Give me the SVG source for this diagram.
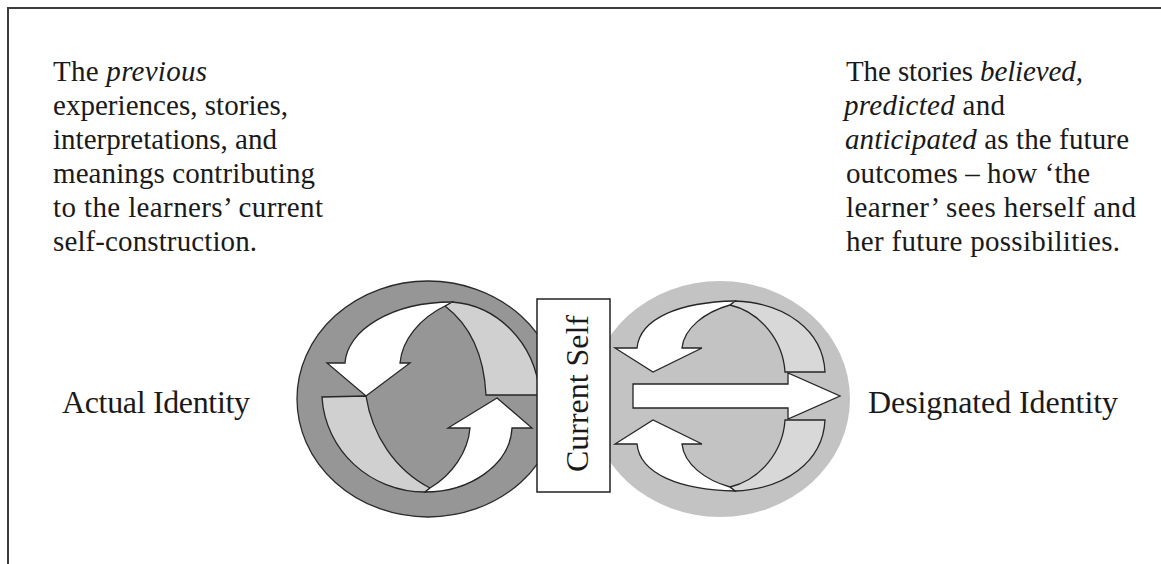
<svg xmlns="http://www.w3.org/2000/svg" width="1161" height="564" viewBox="0 0 1161 564">
  <style>
    text { font-family: "Liberation Serif", "Times New Roman", serif; fill: #1a1a1a; }
    .body { font-size: 29px; }
    .label { font-size: 32px; }
    .it { font-style: italic; }
    .edge { stroke: #262626; stroke-width: 1.3; stroke-linejoin: miter; }
    .face { fill: #ffffff; }
    .back-dark { fill: #d0d0d0; }
    .back-light { fill: #d8d8d8; }
  </style>

  <rect width="1161" height="564" fill="#ffffff"/>

  <!-- page frame -->
  <g id="frame">
    <path d="M8,564 V8 H1161" fill="none" stroke="#3c3c3c" stroke-width="2"/>
  </g>

  <!-- description of the past -->
  <g id="past-text" class="body">
    <text x="53" y="81" textLength="154">The <tspan class="it">previous</tspan></text>
    <text x="53" y="115" textLength="235">experiences, stories,</text>
    <text x="53" y="149" textLength="224">interpretations, and</text>
    <text x="53" y="183" textLength="262">meanings contributing</text>
    <text x="53" y="217" textLength="270">to the learners’ current</text>
    <text x="53" y="251" textLength="204">self-construction.</text>
  </g>

  <!-- description of the future -->
  <g id="future-text" class="body">
    <text x="846" y="81" textLength="237">The stories <tspan class="it">believed,</tspan></text>
    <text x="844" y="115" textLength="161"><tspan class="it">predicted</tspan> and</text>
    <text x="845" y="149" textLength="284"><tspan class="it">anticipated</tspan> as the future</text>
    <text x="846" y="183" textLength="244">outcomes – how ‘the</text>
    <text x="846" y="217" textLength="290">learner’ sees herself and</text>
    <text x="846" y="251" textLength="274">her future possibilities.</text>
  </g>

  <!-- actual identity: dark disc with a two-arrow cycle -->
  <g id="actual-identity">
    <ellipse cx="428" cy="399" rx="131" ry="118" fill="#969696" stroke="#2a2a2a" stroke-width="1.3"/>
    <path class="edge back-dark" d="M452,302 C495,305 535,340 540,395 L486,395 C484,355 470,325 445,306 Z"/>
    <path class="edge back-dark" d="M322,397 C325,450 370,492 425,492 L430,488 C395,470 372,435 366,396 Z"/>
    <path class="edge face" d="M345,363 C347,330 392,302 452,302 L445,306 C420,318 402,340 400,363 L410,363 L366,396 L327,363 Z"/>
    <path class="edge face" d="M512,428 C510,465 470,492 425,492 L430,488 C452,475 468,452 470,428 L448,428 L497,398 L532,428 Z"/>
    <text class="label" x="62" y="413" textLength="188">Actual Identity</text>
  </g>

  <!-- designated identity: light disc, cycle opened by a forward arrow -->
  <g id="designated-identity">
    <ellipse cx="720" cy="399" rx="130" ry="118" fill="#c3c3c3"/>
    <path class="edge back-light" d="M735,301 C785,303 823,330 825,372 L785,372 C783,340 760,312 730,305 Z"/>
    <path class="edge back-light" d="M735,491 C785,489 823,462 825,420 L785,420 C783,452 760,480 730,487 Z"/>
    <path class="edge face" d="M637,348 C640,318 680,302 735,301 L730,305 C705,312 684,328 682,348 L702,348 L653,372 L615,348 Z"/>
    <path class="edge face" d="M637,444 C640,474 680,490 735,491 L730,487 C705,480 684,464 682,444 L702,444 L653,420 L615,444 Z"/>
    <path class="edge face" d="M633,384 L788,384 L788,373 L840,396 L788,419 L788,408 L633,408 Z"/>
    <text class="label" x="868" y="413" textLength="250">Designated Identity</text>
  </g>

  <!-- current self: the hinge between the two discs -->
  <g id="current-self">
    <rect x="537" y="299" width="73" height="193" fill="#ffffff" stroke="#222222" stroke-width="1.5"/>
    <text class="label" transform="translate(588,393.5) rotate(-90)" text-anchor="middle" textLength="157">Current Self</text>
  </g>
</svg>
